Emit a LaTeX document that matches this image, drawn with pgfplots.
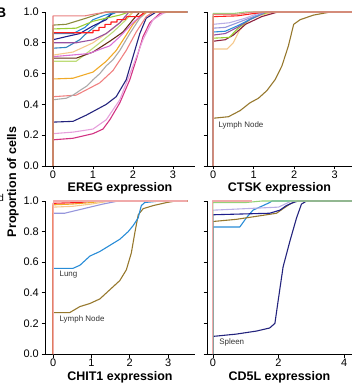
\documentclass[border=0pt]{standalone}
\usepackage{pgfplots}
\pgfplotsset{compat=1.18}
\usepackage{fontspec}
\setmainfont{Liberation Sans}
\definecolor{cpink}{RGB}{232,128,128}
\definecolor{cpinklt}{RGB}{240,170,170}
\definecolor{colive}{RGB}{139,139,60}
\definecolor{cyg}{RGB}{154,205,50}
\definecolor{cred}{RGB}{255,30,30}
\definecolor{cdodger}{RGB}{40,140,215}
\definecolor{cnavy}{RGB}{35,35,125}
\definecolor{cnavyb}{RGB}{30,30,140}
\definecolor{cpurple}{RGB}{150,80,160}
\definecolor{csteel}{RGB}{50,130,190}
\definecolor{cpeach}{RGB}{245,200,140}
\definecolor{cbrown}{RGB}{100,45,20}
\definecolor{corchid}{RGB}{218,112,214}
\definecolor{clgreen}{RGB}{190,220,120}
\definecolor{corange}{RGB}{240,170,40}
\definecolor{cgray}{RGB}{170,170,170}
\definecolor{csalmon}{RGB}{240,128,128}
\definecolor{cplum}{RGB}{230,160,220}
\definecolor{cmagenta}{RGB}{210,50,130}
\definecolor{cgold}{RGB}{150,120,45}
\definecolor{cmaroon}{RGB}{140,30,60}
\definecolor{clav}{RGB}{150,150,220}
\definecolor{clav2}{RGB}{185,175,230}
\definecolor{cgreen}{RGB}{150,210,120}
\tikzset{lab/.style={font=\fontsize{8}{8}\selectfont, anchor=west, inner sep=0pt, text=black!80}}
\pgfplotsset{
  ecdf/.style={
    scale only axis,
    axis x line*=bottom, axis y line*=left,
    axis line style={black, line width=0.8pt, -},
    ymin=0, ymax=1,
    ytick={0,0.2,0.4,0.6,0.8,1},
    yticklabel style={/pgf/number format/fixed,/pgf/number format/fixed zerofill,/pgf/number format/precision=1},
    /pgf/number format/assume math mode=true,
    tick align=outside, major tick length=3.5bp,
    tick style={black, line width=0.7pt},
    tick label style={font=\fontsize{11}{11}\selectfont, black},
    xticklabel style={inner sep=1.5bp},
    yticklabel style={inner sep=2.5bp},
    xlabel style={at={(axis description cs:0.5,0)}, anchor=north, inner sep=0pt, yshift=-16.5bp, font=\bfseries\fontsize{12.5}{12.5}\selectfont},
    clip=false,
    every axis plot/.append style={line width=1.1pt, line join=round, mark=none},
  },
}
\begin{document}
\begin{tikzpicture}
% ---------------- EREG ----------------
\begin{axis}[ecdf, at={(45bp,218bp)}, anchor=south west, width=150bp, height=154bp,
  xmin=-0.2, xmax=3.55, xtick={0,1,2,3}, xlabel={EREG expression}]
\addplot[cmagenta] coordinates {(0,0)(0,0.17)(0.5,0.18)(1.0,0.21)(1.25,0.24)(1.42,0.30)(1.67,0.41)(1.92,0.56)(2.08,0.69)(2.25,0.84)(2.42,0.93)(2.67,0.99)(2.8,1)(3.35,1)};
\addplot[cplum] coordinates {(0,0)(0,0.21)(0.5,0.22)(1.0,0.24)(1.33,0.30)(1.67,0.43)(2.0,0.65)(2.25,0.82)(2.5,0.95)(2.75,0.99)(2.85,1)(3.35,1)};
\addplot[cnavy] coordinates {(0,0)(0,0.285)(0.5,0.29)(0.83,0.33)(1.33,0.40)(1.58,0.45)(1.83,0.56)(2.0,0.71)(2.17,0.86)(2.33,0.96)(2.58,1)(3.35,1)};
\addplot[csalmon] coordinates {(0,0)(0,0.45)(0.58,0.46)(1.17,0.54)(1.5,0.62)(1.83,0.75)(2.08,0.87)(2.33,0.97)(2.5,1)(3.35,1)};
\addplot[cgray] coordinates {(0,0)(0,0.43)(0.33,0.44)(0.5,0.46)(0.67,0.49)(0.85,0.52)(1.0,0.56)(1.17,0.60)(1.33,0.65)(1.5,0.69)(1.67,0.75)(1.92,0.86)(2.17,0.96)(2.35,1)(3.35,1)};
\addplot[corange] coordinates {(0,0)(0,0.565)(0.5,0.57)(1.0,0.61)(1.33,0.68)(1.58,0.75)(1.83,0.85)(2.0,0.92)(2.17,0.97)(2.35,1)(3.35,1)};
\addplot[clgreen] coordinates {(0,0)(0,0.68)(0.58,0.68)(0.83,0.73)(1.17,0.80)(1.5,0.87)(1.83,0.95)(2.0,1)(3.35,1)};
\addplot[cbrown] coordinates {(0,0)(0,0.70)(0.58,0.70)(1.0,0.74)(1.42,0.81)(1.75,0.87)(2.0,0.95)(2.17,1)(3.35,1)};
\addplot[corchid] coordinates {(0,0)(0,0.71)(0.9,0.73)(1.2,0.76)(1.42,0.78)(1.67,0.84)(2.0,0.93)(2.3,1)(3.35,1)};
\addplot[cpeach] coordinates {(0,0)(0,0.72)(0.5,0.74)(1.0,0.80)(1.33,0.86)(1.67,0.93)(2.0,1)(3.35,1)};
\addplot[csteel] coordinates {(0,0)(0,0.765)(0.33,0.77)(0.67,0.82)(0.83,0.86)(1.17,0.93)(1.42,0.98)(1.6,1)(3.35,1)};
\addplot[cpurple] coordinates {(0,0)(0,0.80)(0.58,0.80)(1.0,0.82)(1.33,0.86)(1.67,0.93)(1.9,1)(3.35,1)};
\addplot[cnavyb] coordinates {(0,0)(0,0.82)(0.33,0.84)(0.67,0.86)(1.0,0.91)(1.33,0.95)(1.5,1)(3.35,1)};
\addplot[cdodger] coordinates {(0,0)(0,0.86)(0.5,0.86)(0.8,0.90)(1.0,0.95)(1.3,0.98)(1.6,1)(3.35,1)};
\addplot[cred] coordinates {(0,0)(0,0.865)(1.0,0.865)(1.0,0.88)(1.15,0.88)(1.15,0.90)(1.3,0.90)(1.3,0.92)(1.45,0.92)(1.45,0.935)(1.6,0.935)(1.6,0.95)(1.8,0.95)(1.85,0.97)(2.15,0.97)(2.3,1)(3.35,1)};
\addplot[cyg] coordinates {(0,0)(0,0.89)(0.58,0.895)(1.0,0.94)(1.33,0.96)(1.67,0.98)(1.9,1)(3.35,1)};
\addplot[colive] coordinates {(0,0)(0,0.915)(0.33,0.92)(0.83,0.96)(1.17,0.99)(1.3,1)(3.35,1)};
\addplot[cpink] coordinates {(0,0)(0,0.975)(0.8,0.975)(1.1,0.99)(1.4,1)(3.35,1)};
\end{axis}
% ---------------- CTSK ----------------
\begin{axis}[ecdf, at={(207bp,218bp)}, anchor=south west, width=145bp, height=154bp,
  xmin=-0.15, xmax=3.43, xtick={0,1,2,3}, yticklabels={}, xlabel={CTSK expression}]
\addplot[cgold] coordinates {(0,0)(0,0.31)(0.38,0.32)(0.67,0.36)(0.91,0.41)(1.12,0.44)(1.33,0.49)(1.53,0.56)(1.70,0.65)(1.86,0.78)(1.99,0.92)(2.15,0.95)(2.48,0.98)(2.9,1)(3.43,1)};
\addplot[cpeach] coordinates {(0,0)(0,0.76)(0.35,0.76)(0.5,0.80)(0.65,0.88)(0.9,0.95)(1.2,0.98)(1.5,1)(3.43,1)};
\addplot[cmaroon] coordinates {(0,0)(0,0.81)(0.3,0.82)(0.5,0.85)(0.8,0.92)(1.2,0.97)(1.6,1)(3.43,1)};
\addplot[cyg] coordinates {(0,0)(0,0.83)(0.4,0.835)(0.6,0.89)(0.8,0.93)(1.0,0.97)(1.4,1)(3.43,1)};
\addplot[cpurple] coordinates {(0,0)(0,0.85)(0.3,0.86)(0.6,0.90)(0.9,0.95)(1.3,1)(3.43,1)};
\addplot[cdodger] coordinates {(0,0)(0,0.87)(0.3,0.875)(0.6,0.91)(0.9,0.95)(1.3,1)(3.43,1)};
\addplot[clav] coordinates {(0,0)(0,0.895)(0.3,0.90)(0.6,0.93)(0.9,0.96)(1.3,1)(3.43,1)};
\addplot[clav2] coordinates {(0,0)(0,0.92)(0.4,0.93)(0.8,0.96)(1.2,1)(3.43,1)};
\addplot[cred] coordinates {(0,0)(0,0.97)(0.6,0.975)(1.0,0.99)(1.3,1)(3.43,1)};
\addplot[cgreen] coordinates {(0,0)(0,0.99)(0.5,0.99)(0.8,1)(3.43,1)};
\addplot[cpink] coordinates {(0,0)(0,0.985)(0.6,0.985)(1.0,1)(3.43,1)};
\node[lab] at (axis cs:0.13,0.264) {Lymph Node};
\end{axis}
% ---------------- CHIT1 ----------------
\begin{axis}[ecdf, at={(45bp,30bp)}, anchor=south west, width=150bp, height=153bp,
  xmin=-0.21, xmax=3.7, xtick={0,1,2,3}, xlabel={CHIT1 expression}, xlabel style={yshift=-0.5bp}]
\addplot[cgold] coordinates {(0,0)(0,0.27)(0.43,0.27)(0.70,0.31)(0.96,0.33)(1.22,0.36)(1.48,0.42)(1.74,0.48)(1.91,0.55)(2.04,0.66)(2.13,0.79)(2.22,0.91)(2.35,0.95)(2.61,0.97)(2.96,0.99)(3.2,1)(3.5,1)};
\addplot[cdodger] coordinates {(0,0)(0,0.56)(0.52,0.56)(0.70,0.58)(0.96,0.64)(1.22,0.67)(1.48,0.71)(1.74,0.75)(1.96,0.80)(2.09,0.84)(2.22,0.89)(2.30,0.97)(2.39,0.99)(2.8,1)(3.5,1)};
\addplot[clav] coordinates {(0,0)(0,0.92)(0.3,0.92)(0.8,0.95)(1.3,0.98)(1.7,1)(3.5,1)};
\addplot[cpeach] coordinates {(0,0)(0,0.96)(0.5,0.965)(1.0,0.98)(1.5,1)(3.5,1)};
\addplot[corange] coordinates {(0,0)(0,0.975)(0.5,0.98)(1.0,0.99)(1.3,1)(3.5,1)};
\addplot[cred] coordinates {(0,0)(0,0.985)(0.7,0.99)(1.0,1)(3.5,1)};
\addplot[cpinklt] coordinates {(0,0)(0,1)(3.5,1)};
\node[lab] at (axis cs:0.165,0.516) {Lung};
\node[lab] at (axis cs:0.165,0.224) {Lymph Node};
\end{axis}
% ---------------- CD5L ----------------
\begin{axis}[ecdf, at={(207bp,30bp)}, anchor=south west, width=145bp, height=153bp,
  xmin=-0.18, xmax=4.24, xtick={0,2,4}, yticklabels={}, xlabel={CD5L expression}, xlabel style={yshift=-0.5bp}]
\addplot[cnavy] coordinates {(0,0)(0,0.115)(0.71,0.13)(1.33,0.15)(1.73,0.17)(1.89,0.20)(1.99,0.35)(2.14,0.57)(2.35,0.74)(2.55,0.89)(2.70,0.98)(2.86,1)(4.24,1)};
\addplot[cdodger] coordinates {(0,0)(0,0.83)(0.82,0.83)(1.02,0.89)(1.22,0.94)(1.53,0.97)(1.73,0.99)(1.8,1)(4.24,1)};
\addplot[cgold] coordinates {(0,0)(0,0.866)(0.71,0.88)(1.33,0.90)(1.94,0.92)(2.14,0.95)(2.35,0.98)(2.55,1)(4.24,1)};
\addplot[cnavyb] coordinates {(0,0)(0,0.91)(1.73,0.92)(2.04,0.94)(2.24,0.97)(2.45,0.99)(2.6,1)(4.24,1)};
\addplot[clav2] coordinates {(0,0)(0,0.94)(1.0,0.95)(2.0,0.96)(2.4,1)(4.24,1)};
\addplot[cgreen] coordinates {(0,0)(0,0.99)(1.0,0.99)(1.5,1)(4.24,1)};
\addplot[cpinklt] coordinates {(0,0)(0,1)(1.2,1)};
\node[lab] at (axis cs:0.19,0.075) {Spleen};
\end{axis}
% ---------------- shared texts ----------------
\node[rotate=90, inner sep=0pt, font=\bfseries\fontsize{12.5}{12.5}\selectfont] at (13bp,202bp) {Proportion of cells};
\node[anchor=north east, inner sep=0pt, font=\bfseries\fontsize{14}{14}\selectfont] at (6.5bp,376bp) {B};
\node[anchor=base east, inner sep=0pt, font=\fontsize{10}{10}\selectfont] at (4bp,182bp) {d};
\pgfresetboundingbox
\path[use as bounding box] (0,0) rectangle (352bp,384bp);
\end{tikzpicture}
\end{document}
